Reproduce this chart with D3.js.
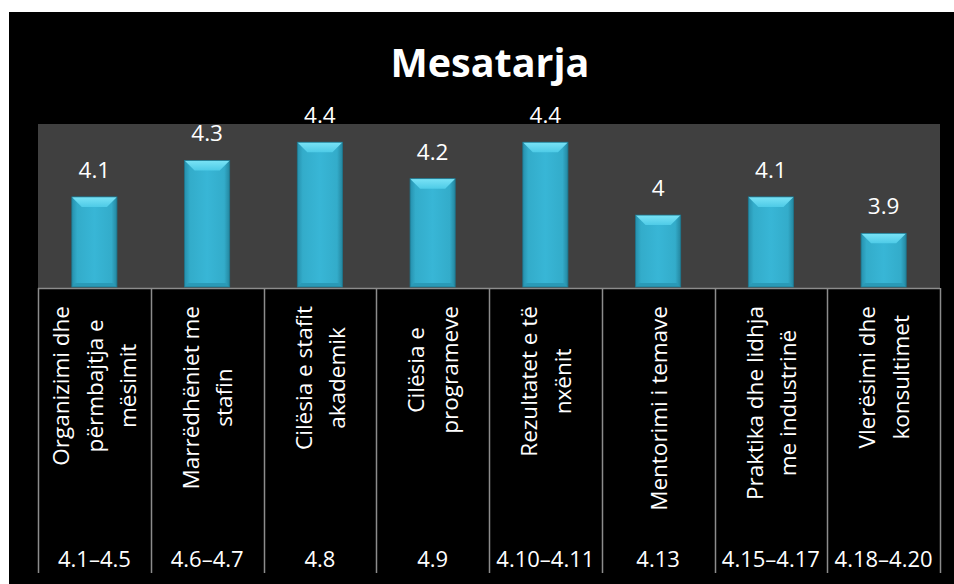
<!DOCTYPE html>
<html><head><meta charset="utf-8">
<script src="https://cdn.jsdelivr.net/npm/d3@7"></script>
<style>html,body{margin:0;padding:0;background:#fff;}svg{display:block;}</style>
</head><body>
<svg id="c" width="954" height="584"></svg>
<script>
const title = "Mesatarja";
const categories = [
  ["Organizimi dhe","përmbajtja e","mësimit"],
  ["Marrëdhëniet me","stafin"],
  ["Cilësia e stafit","akademik"],
  ["Cilësia e","programeve"],
  ["Rezultatet e të","nxënit"],
  ["Mentorimi i temave"],
  ["Praktika dhe lidhja","me industrinë"],
  ["Vlerësimi dhe","konsultimet"]
];
const rangeLabels = ["4.1–4.5","4.6–4.7","4.8","4.9","4.10–4.11","4.13","4.15–4.17","4.18–4.20"];
const values = [4.1, 4.3, 4.4, 4.2, 4.4, 4.0, 4.1, 3.9];
const yDomain = [3.6, 4.5];

(function(){
const FONT = "'Open Sans', Lato, sans-serif";
const svg = d3.select("#c");
svg.append("rect").attr("x",9).attr("y",12).attr("width",945).attr("height",572).attr("fill","#000");

const pL=38, pR=940, pT=124, pB=288, catBottom=573;
const idx = d3.range(values.length);
const x = d3.scaleBand().domain(idx).range([pL,pR]).paddingInner(0).paddingOuter(0);
const y = d3.scaleLinear().domain(yDomain).range([pB, pT]);

const defs = svg.append("defs");
const gb = defs.append("linearGradient").attr("id","body").attr("x1",0).attr("x2",1).attr("y1",0).attr("y2",0);
[[0,"#2690ad"],[0.12,"#33acca"],[0.5,"#38b6d6"],[0.88,"#33acca"],[1,"#24869f"]].forEach(s=>gb.append("stop").attr("offset",s[0]).attr("stop-color",s[1]));
const gt = defs.append("linearGradient").attr("id","topb").attr("x1",0).attr("x2",0).attr("y1",0).attr("y2",1);
[[0,"#7ae3f6"],[1,"#4ecbe7"]].forEach(s=>gt.append("stop").attr("offset",s[0]).attr("stop-color",s[1]));

svg.append("rect").attr("x",pL).attr("y",pT).attr("width",pR-pL).attr("height",pB-pT).attr("fill","#404040");

svg.append("text").attr("x",490).attr("y",77).attr("text-anchor","middle")
  .attr("font-family",FONT).attr("font-weight","bold").attr("font-size",39.5).attr("fill","#fff").text(title);

const bw = x.bandwidth()*0.4;
svg.append("g").selectAll("g").data(idx).join("g").each(function(i){
  const g = d3.select(this);
  const x0 = x(i) + (x.bandwidth()-bw)/2, x1 = x0+bw;
  const y0 = y(values[i]), y1 = pB-1;
  const b = 10;
  g.append("rect").attr("x",x0).attr("y",y0).attr("width",bw).attr("height",y1-y0).attr("fill","url(#body)");
  g.append("polygon").attr("points",[[x0,y0],[x1,y0],[x1-b,y0+b],[x0+b,y0+b]].map(p=>p.join(",")).join(" ")).attr("fill","url(#topb)");
  g.append("polygon").attr("points",[[x0,y1],[x1,y1],[x1-4,y1-4],[x0+4,y1-4]].map(p=>p.join(",")).join(" ")).attr("fill","#2a9ab7");
  g.append("rect").attr("x",x0).attr("y",y0).attr("width",bw).attr("height",y1-y0).attr("fill","none").attr("stroke","#1d7890").attr("stroke-width",0.8);
});

svg.append("g").selectAll("text").data(idx).join("text")
  .attr("x",i=>x(i)+x.bandwidth()/2).attr("y",i=>y(values[i])-19)
  .attr("text-anchor","middle").attr("font-family",FONT).attr("font-size",22.5).attr("fill","#fff")
  .text(i=>d3.format("")(values[i]));

svg.append("line").attr("x1",pL).attr("x2",pR).attr("y1",pB+0.5).attr("y2",pB+0.5).attr("stroke","#8c8c8c").attr("stroke-width",1.5);

const seps = idx.map(i=>x(i)).concat([pR]);
svg.append("g").selectAll("line").data(seps).join("line")
  .attr("x1",d=>Math.round(d)+0.5).attr("x2",d=>Math.round(d)+0.5).attr("y1",pB).attr("y2",catBottom)
  .attr("stroke","#8c8c8c").attr("stroke-width",1.5);

const fs = 22.5, lh = 33.5, topY = 306;
idx.forEach(i=>{
  const cx = x(i)+x.bandwidth()/2;
  const g = svg.append("g").attr("transform",`translate(${cx},0) rotate(-90)`);
  const lines = categories[i];
  const texts = lines.map((t,k)=>g.append("text").attr("font-family",FONT).attr("font-size",fs).attr("fill","#fff")
     .attr("text-anchor","middle").attr("y",(k-(lines.length-1)/2)*lh+0.38*fs).text(t));
  const maxW = d3.max(texts,t=>t.node().getComputedTextLength());
  texts.forEach(t=>t.attr("x",-(topY+maxW/2)));
});

svg.append("g").selectAll("text").data(idx).join("text")
  .attr("x",i=>x(i)+x.bandwidth()/2).attr("y",567).attr("text-anchor","middle")
  .attr("font-family",FONT).attr("font-size",22).attr("fill","#fff").text(i=>rangeLabels[i]);
})();
</script>
</body></html>
